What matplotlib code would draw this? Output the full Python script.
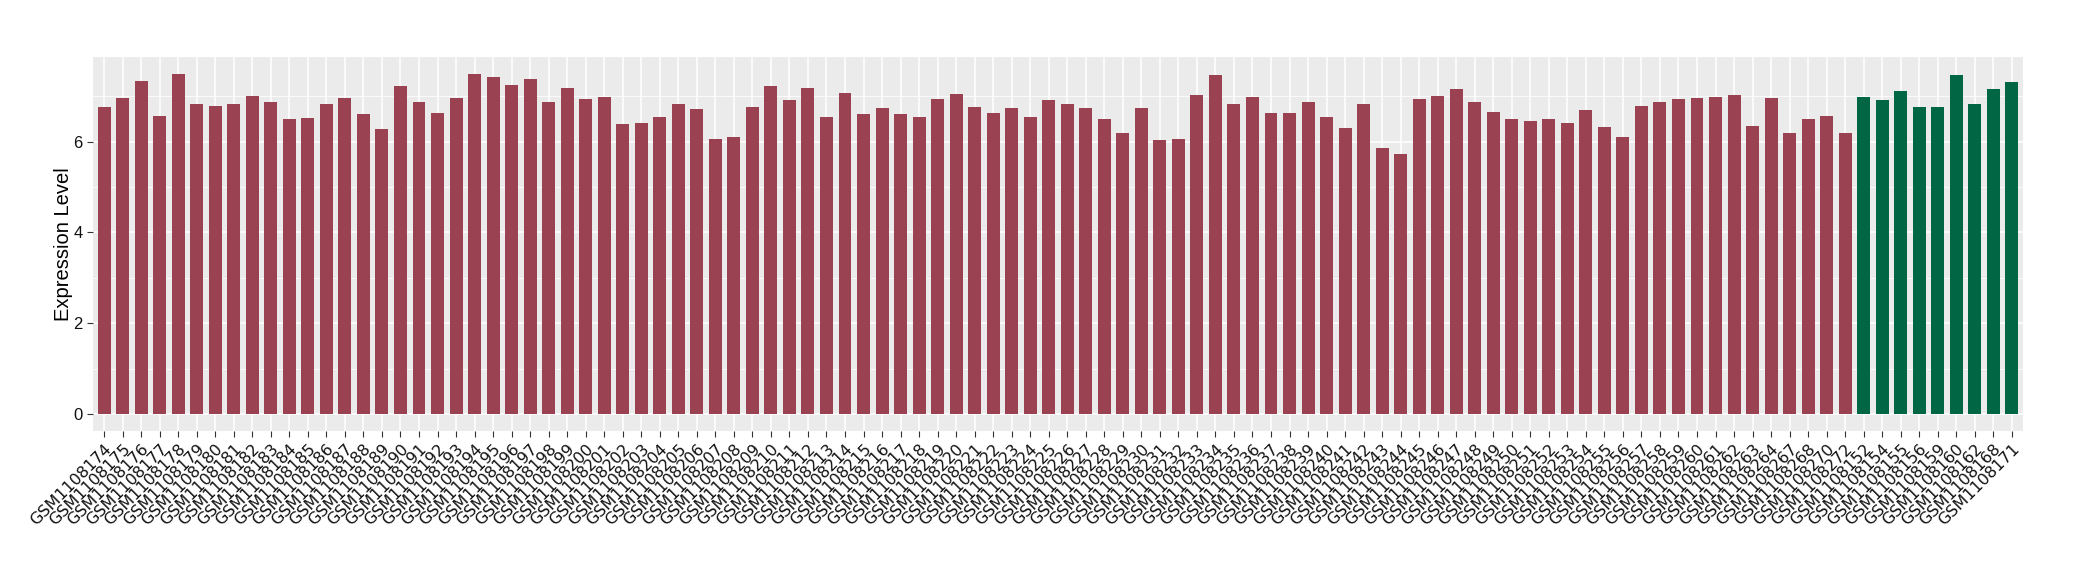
import numpy as np
import matplotlib.pyplot as plt
from matplotlib.ticker import MultipleLocator

# Proben (rot = Gruppe 1, grün = Gruppe 2)
samples_a = ["GSM1108%d" % i for i in range(174, 265)] + [
    "GSM1108267", "GSM1108268", "GSM1108270", "GSM1108272"]
values_a = [
    6.77, 6.97, 7.34, 6.57, 7.49, 6.82, 6.79, 6.84, 7.01, 6.88,
    6.49, 6.51, 6.84, 6.97, 6.60, 6.27, 7.23, 6.88, 6.64, 6.97,
    7.49, 7.43, 7.25, 7.37, 6.88, 7.19, 6.95, 6.99, 6.38, 6.42,
    6.55, 6.82, 6.71, 6.05, 6.11, 6.77, 7.23, 6.91, 7.19, 6.55,
    7.08, 6.60, 6.73, 6.60, 6.54, 6.93, 7.06, 6.77, 6.64, 6.73,
    6.54, 6.91, 6.84, 6.75, 6.49, 6.20, 6.73, 6.03, 6.05, 7.03,
    7.47, 6.84, 6.99, 6.62, 6.64, 6.88, 6.55, 6.29, 6.82, 5.87,
    5.72, 6.95, 7.01, 7.17, 6.88, 6.66, 6.49, 6.45, 6.49, 6.42,
    6.69, 6.33, 6.11, 6.79, 6.88, 6.95, 6.97, 6.99, 7.03, 6.35,
    6.97, 6.20, 6.49, 6.57, 6.18,
]
samples_b = ["GSM1108152", "GSM1108154", "GSM1108155", "GSM1108156",
             "GSM1108159", "GSM1108160", "GSM1108162", "GSM1108168",
             "GSM1108171"]
values_b = [6.99, 6.91, 7.12, 6.77, 6.77, 7.47, 6.82, 7.17, 7.32]

color_a = "#9a4252"
color_b = "#006644"

labels = samples_a + samples_b
values = values_a + values_b
colors = [color_a] * len(values_a) + [color_b] * len(values_b)
x = np.arange(len(labels))

fig = plt.figure(figsize=(20.8, 5.8), dpi=100)
ax = fig.add_axes([93 / 2080, 1 - 431 / 580, (2023 - 93) / 2080, (431 - 57) / 580])
ax.set_facecolor("#ebebeb")

ax.bar(x, values, width=0.7, color=colors, zorder=3)

# ggplot-artige Achsen
ymax = max(values)
ax.set_xlim(-0.6, len(labels) - 0.4)
ax.set_ylim(-0.05 * ymax, ymax * 1.05)
ax.yaxis.set_major_locator(MultipleLocator(2))
ax.yaxis.set_minor_locator(MultipleLocator(1))
ax.grid(which="major", color="white", linewidth=1.1, zorder=0)
ax.grid(which="minor", axis="y", color="white", linewidth=0.55, zorder=0)
ax.tick_params(axis="y", which="minor", length=0)
ax.tick_params(axis="both", which="major", length=4, width=0.8, color="#333333")
for s in ax.spines.values():
    s.set_visible(False)

ax.set_xticks(x)
ax.set_xticklabels(labels, rotation=45, ha="right", va="top",
                   rotation_mode="anchor", fontsize=11.5, color="#111111",
                   family="DejaVu Sans")
ax.tick_params(axis="y", labelsize=12, labelcolor="#111111")
for t in ax.get_yticklabels():
    t.set_family("Liberation Sans")
ax.set_ylabel("Expression Level", fontsize=14.5, family="Liberation Sans")
ax.yaxis.set_label_coords(-0.0104, 0.5)

fig.savefig("out.png", dpi=100)
